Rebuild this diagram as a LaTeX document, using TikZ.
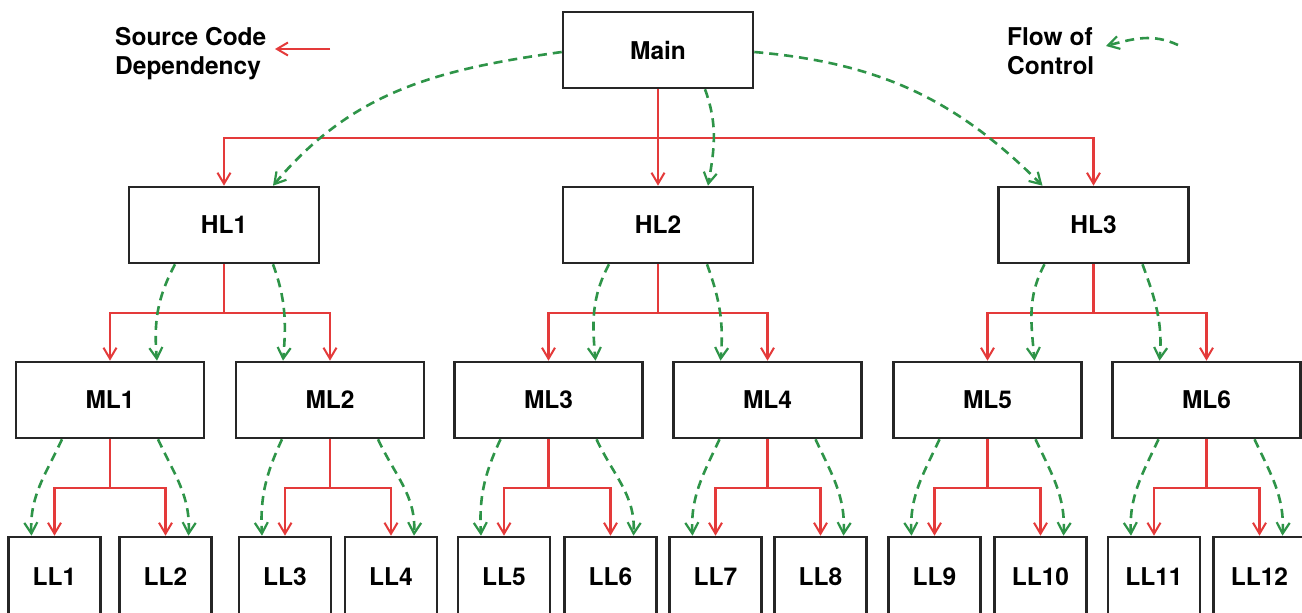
\documentclass[tikz,border=0pt]{standalone}
\usepackage{fontspec}
\setmainfont{TeX Gyre Heros}
\usetikzlibrary{arrows.meta}
\definecolor{depred}{RGB}{228,58,58}
\definecolor{flowgreen}{RGB}{46,148,72}
\begin{document}
\begin{tikzpicture}[x=1pt,y=1pt,
  box/.style={draw=black!85, line width=2.6pt, fill=white, minimum height=76pt, inner sep=0pt, font=\fontsize{24.5}{29}\selectfont\bfseries},
  bigbox/.style={box, minimum width=190pt},
  midbox/.style={box, minimum width=188pt},
  lowbox/.style={box, minimum width=92pt, minimum height=80pt},
  depline/.style={draw=depred, line width=2.2pt},
  dep/.style={depline, -{Straight Barb[length=11pt,width=13pt,line width=2pt]}},
  flow/.style={draw=flowgreen, line width=2.6pt, dash pattern=on 9pt off 6pt, -{Straight Barb[length=11pt,width=13pt,line width=2.2pt]}},
  legend/.style={align=left, inner sep=0pt, anchor=north west, font=\fontsize{24.5}{29.5}\selectfont\bfseries}
]
\useasboundingbox (0,0) rectangle (1302,-613);
\fill[white] (0,0) rectangle (1302,-613);

% legend
\node[legend] (srctext) at (115,-27) {Source Code\\Dependency};
\node[legend] (flowtext) at (1007,-27) {Flow of\\Control};
\coordinate (srcA) at (330,-49);
\coordinate (srcB) at (275,-49);
\coordinate (flA) at (1178,-45);
\coordinate (flB) at (1106,-46);
\draw[dep] (srcA) -- (srcB);
\draw[flow] (flA) to[out=155,in=15] (flB);

% nodes
\node[bigbox] (Main) at (658,-50) {Main};
\node[bigbox] (HL1) at (224,-225) {HL1};
\node[bigbox] (HL2) at (658,-225) {HL2};
\node[bigbox] (HL3) at (1093.5,-225) {HL3};

\node[midbox] (ML1) at (110,-400) {ML1};
\node[midbox] (ML2) at (330,-400) {ML2};
\node[midbox] (ML3) at (548.5,-400) {ML3};
\node[midbox] (ML4) at (767.5,-400) {ML4};
\node[midbox] (ML5) at (987.5,-400) {ML5};
\node[midbox] (ML6) at (1206.5,-400) {ML6};

\node[lowbox] (LL1) at (54.5,-577) {LL1};
\node[lowbox] (LL2) at (165.5,-577) {LL2};
\node[lowbox] (LL3) at (285,-577) {LL3};
\node[lowbox] (LL4) at (391,-577) {LL4};
\node[lowbox] (LL5) at (504,-577) {LL5};
\node[lowbox] (LL6) at (610.5,-577) {LL6};
\node[lowbox] (LL7) at (715.5,-577) {LL7};
\node[lowbox] (LL8) at (820.5,-577) {LL8};
\node[lowbox] (LL9) at (934.5,-577) {LL9};
\node[lowbox] (LL10) at (1040.5,-577) {LL10};
\node[lowbox] (LL11) at (1154,-577) {LL11};
\node[lowbox] (LL12) at (1259.5,-577) {LL12};

% red dependencies: Main -> HL
\path (Main.south) ++(0,-49) coordinate (b0);
\draw[dep] (Main.south) -- (HL2.north);
\draw[dep] (b0) -| (HL1.north);
\draw[dep] (b0) -| (HL3.north);

% HL -> ML
\foreach \h/\l/\r in {HL1/ML1/ML2, HL2/ML3/ML4, HL3/ML5/ML6}{
  \path (\h.south) ++(0,-49) coordinate (bus\h);
  \draw[depline] (\h.south) -- (bus\h);
  \draw[dep] (bus\h) -| (\l.north);
  \draw[dep] (bus\h) -| (\r.north);
  \draw[flow] ([xshift=-49pt]\h.south) to[out=-118,in=95] ([xshift=47pt]\l.north);
  \draw[flow] ([xshift=49pt]\h.south) to[out=-70,in=85] ([xshift=-47pt]\r.north);
}

% ML -> LL
\foreach \m/\l/\r in {ML1/LL1/LL2, ML2/LL3/LL4, ML3/LL5/LL6, ML4/LL7/LL8, ML5/LL9/LL10, ML6/LL11/LL12}{
  \path (\m.south) ++(0,-49) coordinate (bus\m);
  \draw[depline] (\m.south) -- (bus\m);
  \draw[dep] (bus\m) -| (\l.north);
  \draw[dep] (bus\m) -| (\r.north);
  \draw[flow] ([xshift=-48pt]\m.south) to[out=-115,in=93] ([xshift=-23pt]\l.north);
  \draw[flow] ([xshift=48pt]\m.south) to[out=-65,in=87] ([xshift=23pt]\r.north);
}

% Main -> HL flow
\draw[flow] ([yshift=-2pt]Main.west) to[out=188,in=50] ([xshift=49pt]HL1.north);
\draw[flow] ([xshift=47pt]Main.south) to[out=-70,in=80] ([xshift=50pt]HL2.north);
\draw[flow] ([yshift=-2pt]Main.east) to[out=-5,in=135] ([xshift=-51pt]HL3.north);
\end{tikzpicture}
\end{document}
